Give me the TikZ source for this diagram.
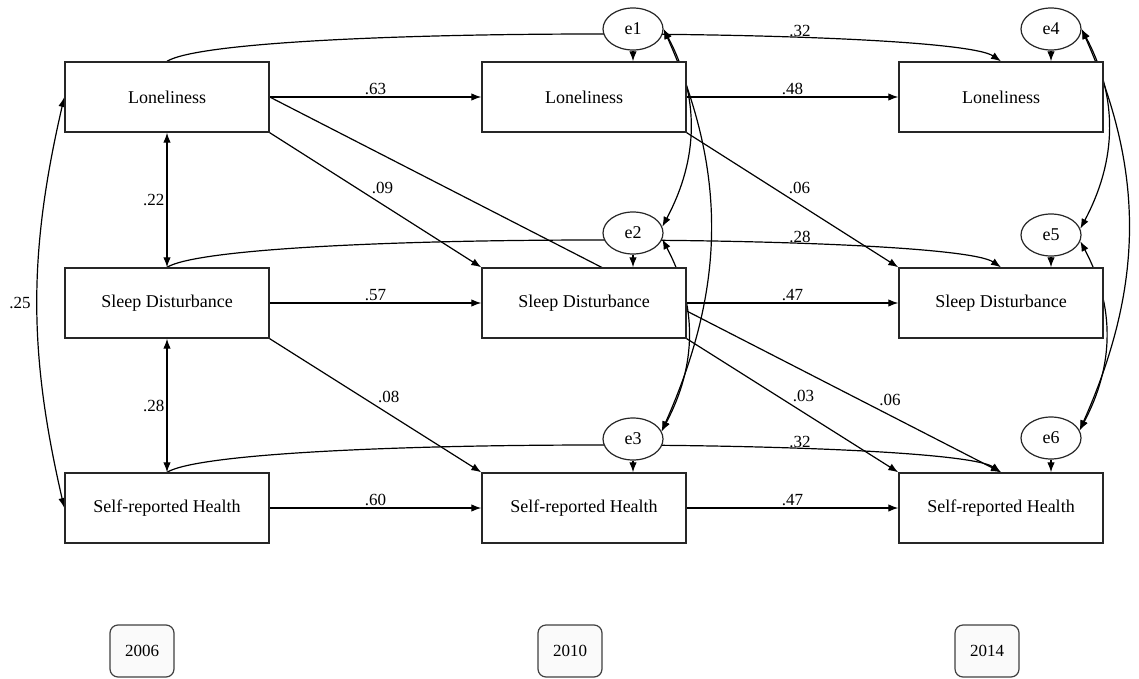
\documentclass[tikz,border=0pt]{standalone}
\usepackage{fontspec}
\setmainfont{Liberation Serif}
\usetikzlibrary{positioning}
\usetikzlibrary{shapes.geometric}
\usetikzlibrary{arrows.meta}
\usetikzlibrary{backgrounds}
\tikzset{>={Latex[length=10pt,width=7.5pt]}}
\tikzset{var/.style={draw=black!85, line width=1.4pt, rectangle, minimum width=204pt, minimum height=70pt, inner sep=0pt, fill=white, font=\fontsize{18}{21}\selectfont}}
\tikzset{err/.style={draw=black!85, line width=1.2pt, ellipse, minimum width=60pt, minimum height=42pt, inner sep=0pt, fill=white, font=\fontsize{18}{21}\selectfont}}
\tikzset{yearbox/.style={draw=black!75, line width=1.2pt, rounded corners=8pt, minimum width=64pt, minimum height=52pt, fill=black!2, font=\fontsize{17}{20}\selectfont}}
\tikzset{ed/.style={inner sep=2pt, font=\fontsize{17}{20}\selectfont}}

\begin{document}
\begin{tikzpicture}[x=1pt, y=1pt, on grid]
        \useasboundingbox (0,0) rectangle (1139,-679);

        % 2006
        \node[var] (L06) at (167,-97) {Loneliness};
        \node[var, below=206pt of L06] (S06) {Sleep Disturbance};
        \node[var, below=205pt of S06] (H06) {Self-reported Health};
        % 2010
        \node[var, right=417pt of L06] (L10) {Loneliness};
        \node[var, right=417pt of S06] (S10) {Sleep Disturbance};
        \node[var, right=417pt of H06] (H10) {Self-reported Health};
        % 2014
        \node[var, right=417pt of L10] (L14) {Loneliness};
        \node[var, right=417pt of S10] (S14) {Sleep Disturbance};
        \node[var, right=417pt of H10] (H14) {Self-reported Health};

        \node[err, above right=68pt and 49pt of L10] (e1) {e1};
        \node[err, above right=70pt and 49pt of S10] (e2) {e2};
        \node[err, above right=69pt and 49pt of H10] (e3) {e3};
        \node[err, above right=68pt and 50pt of L14] (e4) {e4};
        \node[err, above right=68pt and 50pt of S14] (e5) {e5};
        \node[err, above right=70pt and 50pt of H14] (e6) {e6};

        \node[yearbox, below left=143pt and 25pt of H06] (Y06) {2006};
        \node[yearbox, below left=143pt and 14pt of H10] (Y10) {2010};
        \node[yearbox, below left=143pt and 14pt of H14] (Y14) {2014};

        \begin{scope}[on background layer]
        \begin{scope}[line width=1.2pt]
        \draw[->] (L06) -- (L10) node[ed, midway, above] {.63};
        \draw[->] (L10) -- (L14) node[ed, midway, above] {.48};
        \draw[->] (S06) -- (S10) node[ed, midway, above] {.57};
        \draw[->] (S10) -- (S14) node[ed, midway, above] {.47};
        \draw[->] (H06) -- (H10) node[ed, midway, above] {.60};
        \draw[->] (H10) -- (H14) node[ed, midway, above] {.47};

        \draw[<->] (L06) -- (S06) node[ed, midway, left] {.22};
        \draw[<->] (S06) -- (H06) node[ed, midway, left] {.28};
        \draw[<->] (L06.west) to[out=-103, in=103] node[ed, midway, left, xshift=-4pt] {.25} (H06.west);

        \draw[->] (L06.south east) -- (S10.north west) node[ed, pos=.47, above right] {.09};
        \draw[->] (L06.east) -- (H14.north) node[ed, pos=.83, above right] {.06};
        \draw[->] (L10.south east) -- (S14.north west) node[ed, pos=.47, above right] {.06};
        \draw[->] (S06.south east) -- (H10.north west) node[ed, pos=.5, above right] {.08};
        \draw[->] (S10.south east) -- (H14.north west) node[ed, pos=.49, above right] {.03};

        \draw[->] (L06.north) .. controls +(60,37) and +(-50,34) .. (L14.north) node[ed, pos=.69, above] {.32};
        \draw[->] (S06.north) .. controls +(60,37) and +(-50,34) .. (S14.north) node[ed, pos=.69, above] {.28};
        \draw[->] (H06.north) .. controls +(60,37) and +(-50,34) .. (H14.north) node[ed, pos=.69, above] {.32};

        \foreach \e/\v in {e1/L10, e2/S10, e3/H10, e4/L14, e5/S14, e6/H14}
          \draw[->] (\e) -- (\e |- \v.north);

        \draw[<->] (e1.east) to[out=-62, in=62] (e2.12);
        \draw[<->] (e1.east) to[out=-66, in=66] (e3.15);
        \draw[<->] (e2.-12) to[out=-62, in=62] (e3.15);
        \draw[<->] (e4.east) to[out=-62, in=62] (e5.12);
        \draw[<->] (e4.east) to[out=-66, in=66] (e6.15);
        \draw[<->] (e5.-12) to[out=-62, in=62] (e6.15);
        \end{scope}
        \end{scope}
\end{tikzpicture}
\end{document}
